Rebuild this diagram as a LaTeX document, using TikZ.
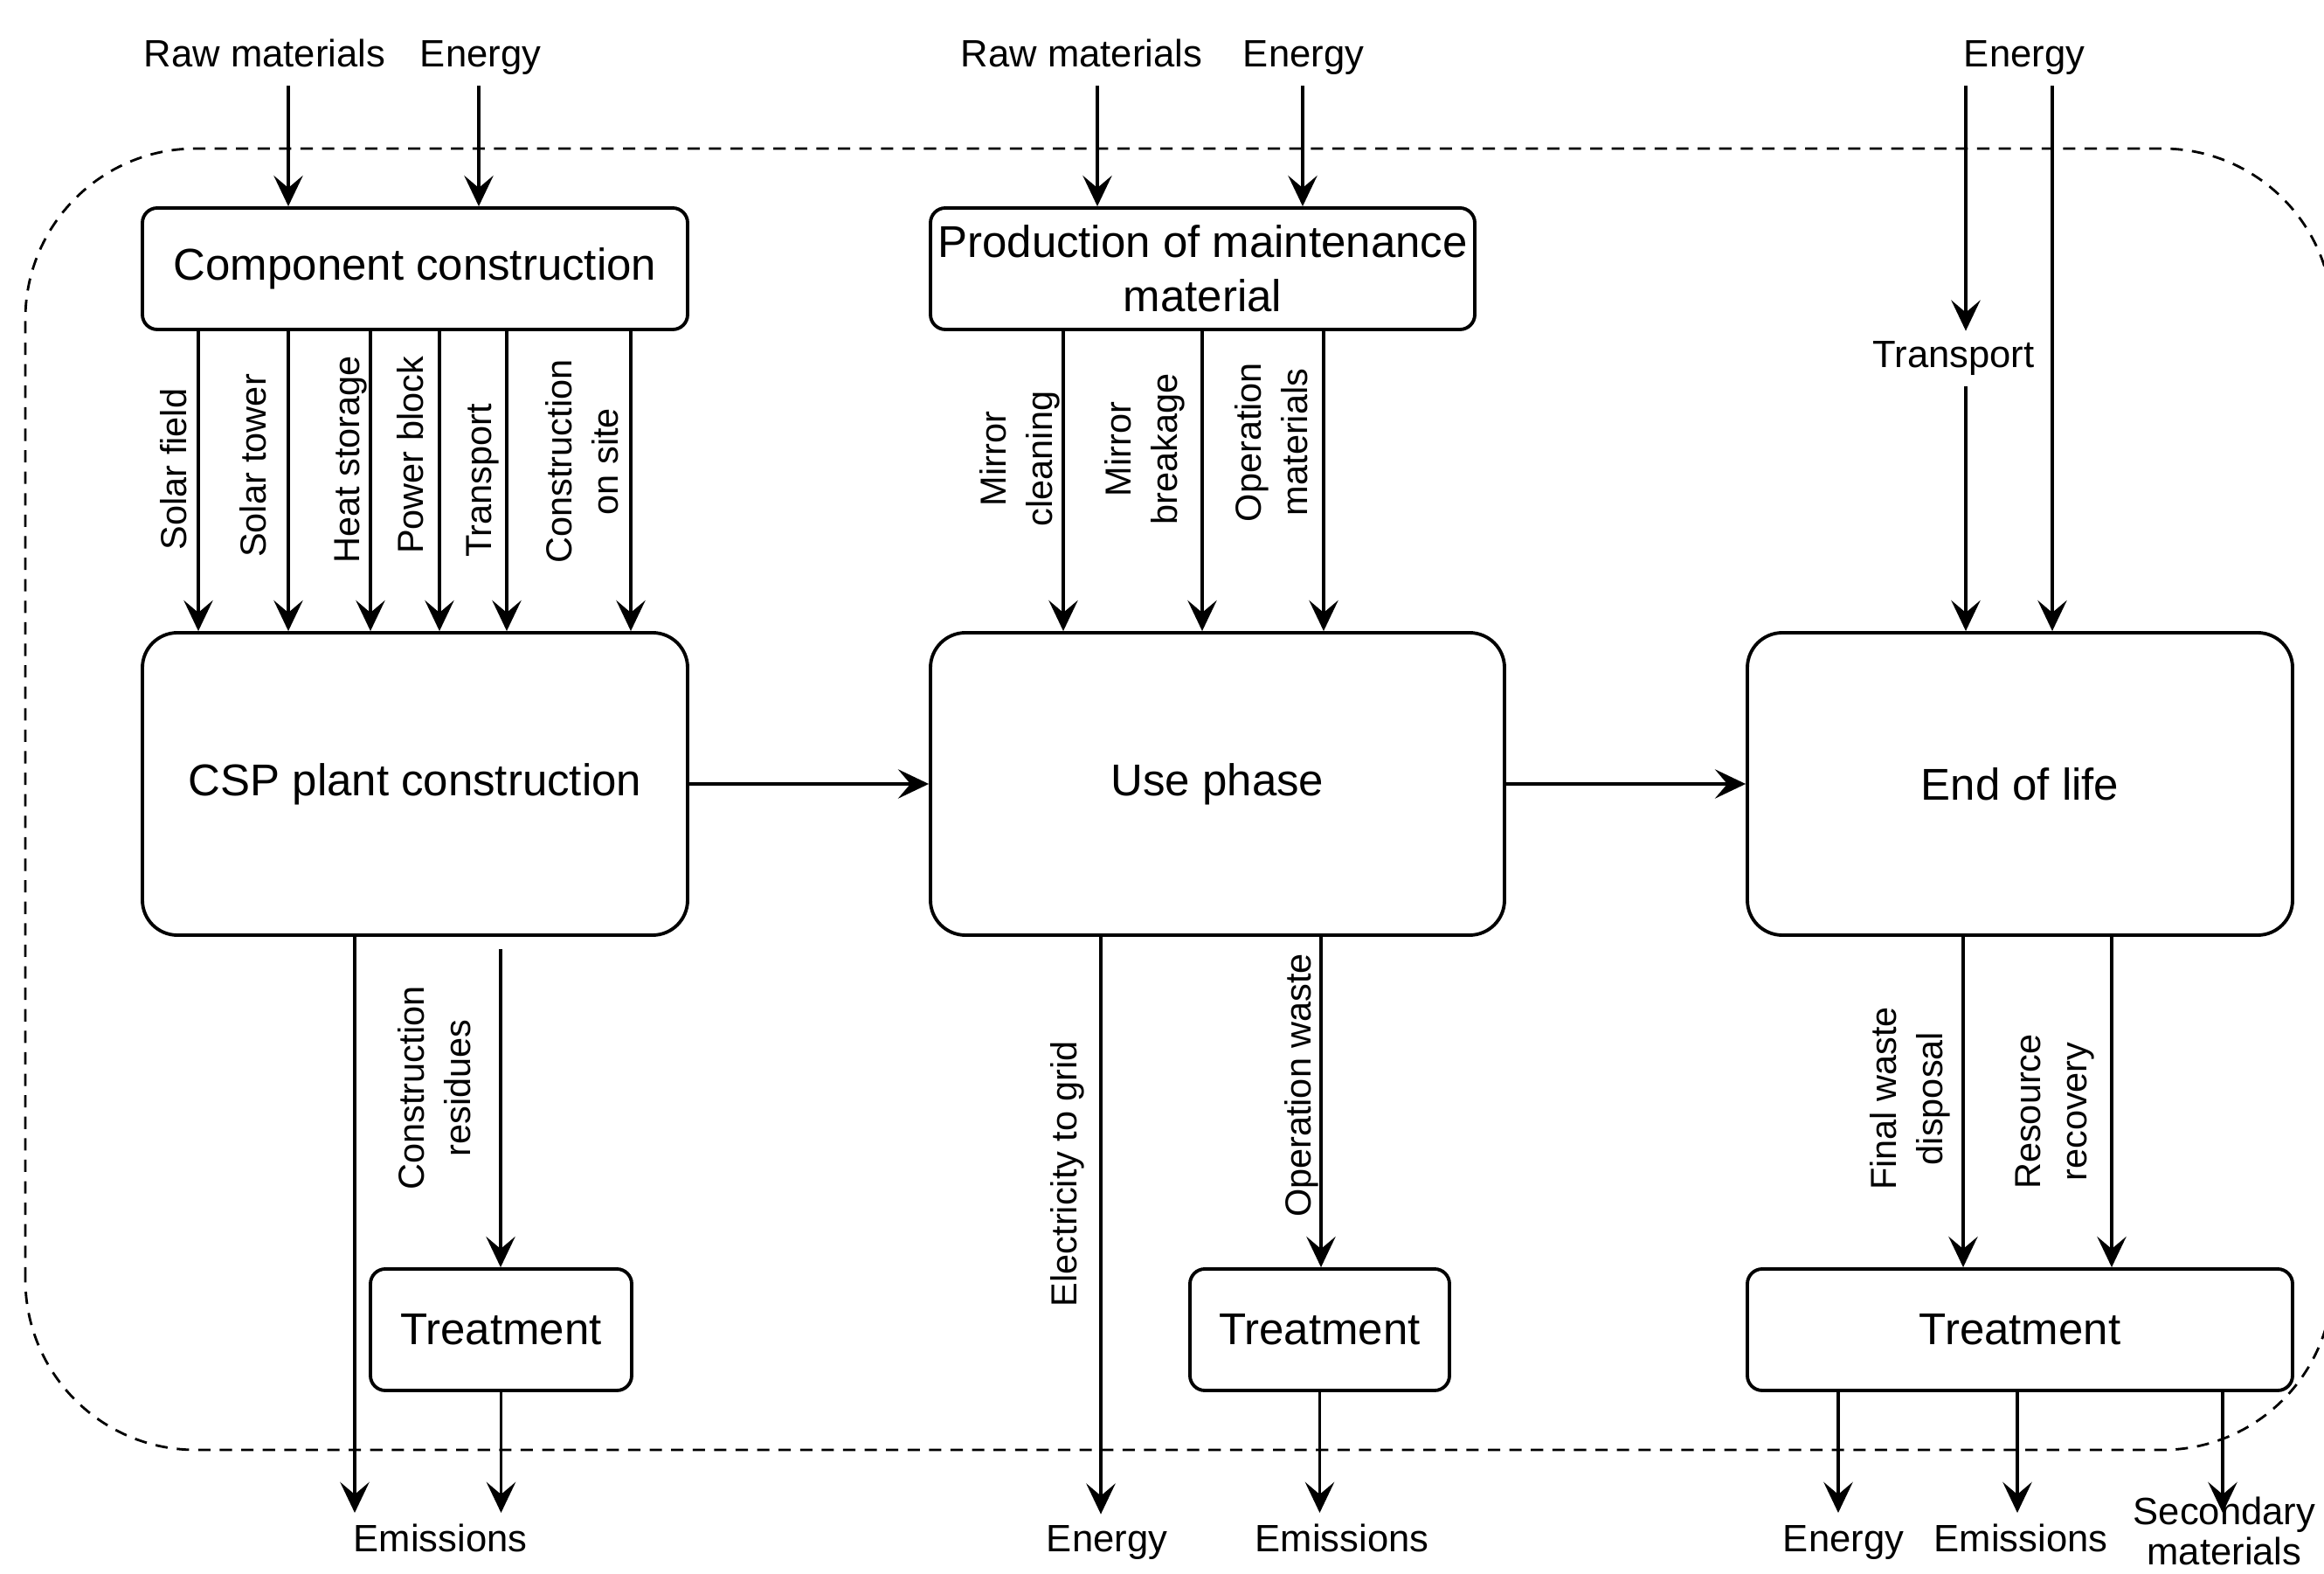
\documentclass[tikz,border=0pt]{standalone}
\usepackage{fontspec}
\setmainfont{Liberation Sans}
\usetikzlibrary{arrows.meta}

\begin{document}
\begin{tikzpicture}[
    box/.style={draw,line width=1.1pt,rounded corners=0.17cm,align=center,
      inner sep=0pt,font=\fontsize{14.5}{17.5}\selectfont},
    bigbox/.style={box,rounded corners=0.4cm},
    flow/.style={-{Stealth[length=10pt,width=9.5pt,inset=4pt]},line width=1pt},
    ext/.style={align=center,text depth=0.25em,font=\fontsize{12.4}{13}\selectfont},
    vlbl/.style={rotate=90,align=center,inner sep=0pt,font=\fontsize{11.8}{15}\selectfont},
    boundary/.style={line width=0.8pt,dash pattern=on 4pt off 3pt,rounded corners=1.95cm}]
    \useasboundingbox (0,0) rectangle (26.6,18);
    % system boundary
    \draw[boundary] (0.29,1.41) rectangle (26.70,16.30);
    % life cycle stages
    \node[box,minimum width=6.24cm,minimum height=1.39cm] (comp) at (4.75,14.925) {Component construction};
    \node[bigbox,minimum width=6.24cm,minimum height=3.46cm] (csp) at (4.75,9.03) {CSP plant construction};
    \node[box,minimum width=6.23cm,minimum height=1.39cm] (prod) at (13.765,14.925) {Production of maintenance\\material};
    \node[bigbox,minimum width=6.57cm,minimum height=3.46cm] (use) at (13.935,9.03) {Use phase};
    \node[bigbox,minimum width=6.24cm,minimum height=3.46cm] (eol) at (23.12,9.03) {End of life};
    \node[box,minimum width=2.99cm,minimum height=1.39cm] (treatA) at (5.735,2.785) {Treatment};
    \node[box,minimum width=2.97cm,minimum height=1.39cm] (treatB) at (15.105,2.785) {Treatment};
    \node[box,minimum width=6.24cm,minimum height=1.39cm] (treatC) at (23.12,2.785) {Treatment};
    % inputs and outputs
    \node[ext,anchor=base] (rawA) at (3.03,17.23) {Raw materials};
    \node[ext,anchor=base] (enA) at (5.50,17.23) {Energy};
    \node[ext,anchor=base] (rawB) at (12.38,17.23) {Raw materials};
    \node[ext,anchor=base] (enB) at (14.92,17.23) {Energy};
    \node[ext,anchor=base] (enC) at (23.17,17.23) {Energy};
    \node[ext,anchor=base] (trans) at (22.36,13.79) {Transport};
    \node[ext,anchor=base] (emA) at (5.04,0.25) {Emissions};
    \node[ext,anchor=base] (enD) at (12.67,0.25) {Energy};
    \node[ext,anchor=base] (emB) at (15.36,0.25) {Emissions};
    \node[ext,anchor=base] (enE) at (21.10,0.25) {Energy};
    \node[ext,anchor=base] (emC) at (23.13,0.25) {Emissions};
    \node[ext] (secmat) at (25.46,0.44) {Secondary\\materials};
    % flow labels
    \node[vlbl] (lsolf) at (1.99,12.63) {Solar field};
    \node[vlbl] (lsolt) at (2.90,12.67) {Solar tower};
    \node[vlbl] (lheat) at (4.02,12.74) {Heat storage};
    \node[vlbl] (lpower) at (4.70,12.79) {Power block};
    \node[vlbl] (ltrans) at (5.53,12.50) {Transport};
    \node[vlbl] (lsite) at (6.66,12.72) {Construction\\on site};
    \node[vlbl] (lmclean) at (11.67,12.75) {Mirror\\cleaning};
    \node[vlbl] (lmbreak) at (13.10,12.86) {Mirror\\breakage};
    \node[vlbl] (lopmat) at (14.55,12.94) {Operation\\materials};
    \node[vlbl] (lres) at (4.97,5.55) {Construction\\residues};
    \node[vlbl] (lgrid) at (12.22,4.57) {Electricity to grid};
    \node[vlbl] (lopw) at (14.90,5.58) {Operation waste};
    \node[vlbl] (lfinal) at (21.86,5.43) {Final waste\\disposal};
    \node[vlbl] (lrecov) at (23.52,5.28) {Resource\\recovery};
    % arrows in
    \draw[flow] (rawA.south -| 3.30,0) -- (3.30,0 |- comp.north);
    \draw[flow] (enA.south -| 5.48,0) -- (5.48,0 |- comp.north);
    \draw[flow] (rawB.south -| 12.56,0) -- (12.56,0 |- prod.north);
    \draw[flow] (enB.south -| 14.91,0) -- (14.91,0 |- prod.north);
    \draw[flow] (enC.south -| 22.50,0) -- (22.50,0 |- trans.north);
    \draw[flow] (22.50,0 |- trans.south) -- (22.50,0 |- eol.north);
    \draw[flow] (enC.south -| 23.49,0) -- (23.49,0 |- eol.north);
    \foreach \x in {2.27,3.30,4.24,5.03,5.80,7.22}
      \draw[flow] (comp.south -| \x,0) -- (\x,0 |- csp.north);
    \foreach \x in {12.17,13.76,15.15}
      \draw[flow] (prod.south -| \x,0) -- (\x,0 |- use.north);
    % main chain
    \draw[flow] (csp) -- (use);
    \draw[flow] (use) -- (eol);
    % arrows out
    \draw[flow] (csp.south -| 4.06,0) -- (4.06,0 |- emA.north);
    \draw[flow] (csp.south -| 5.73,0) ++(0,-0.14) -- (5.73,0 |- treatA.north);
    \draw[flow] (treatA.south) -- (treatA.south |- emA.north);
    \draw[flow] (use.south -| 12.60,0) -- (12.60,0 |- enD.north);
    \draw[flow] (use.south -| 15.12,0) -- (15.12,0 |- treatB.north);
    \draw[flow] (treatB.south) -- (treatB.south |- emB.north);
    \draw[flow] (eol.south -| 22.47,0) -- (22.47,0 |- treatC.north);
    \draw[flow] (eol.south -| 24.17,0) -- (24.17,0 |- treatC.north);
    \foreach \x in {21.04,23.09,25.44}
      \draw[flow] (treatC.south -| \x,0) -- (\x,0 |- emC.north);
\end{tikzpicture}
\end{document}
